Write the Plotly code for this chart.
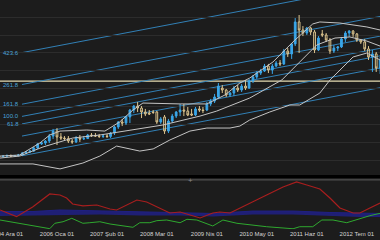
import plotly.graph_objects as go
import pandas as pd

# ---------------- data ----------------
months = pd.date_range('2004-10-01', periods=100, freq='MS')

open_ = [22.2, 22.0, 22.2, 22.5, 22.2, 22.5, 22.8, 23.9, 24.5, 25.0,
         26.7, 29.0, 29.5, 30.6, 33.4, 36.2, 32.9, 32.3, 32.0, 30.6,
         30.1, 32.3, 31.8, 32.0, 34.0, 33.7, 33.4, 33.2, 33.4, 33.2,
         35.1, 38.5, 41.3, 40.7, 44.1, 48.0, 50.2, 49.1, 46.9, 46.3,
         46.9, 46.9, 41.3, 44.1, 36.2, 41.8, 44.6, 46.9, 48.0, 47.4,
         45.8, 45.2, 48.6, 48.0, 48.0, 51.4, 53.0, 55.3, 60.3, 59.2,
         56.4, 57.5, 60.3, 59.2, 61.4, 60.3, 64.2, 66.5, 68.7, 69.8,
         72.6, 70.4, 72.6, 74.3, 73.8, 81.0, 79.4, 85.0, 97.3, 92.8,
         91.1, 93.9, 91.7, 81.6, 90.6, 90.0, 87.2, 81.0, 82.7, 83.3,
         87.8, 91.1, 92.2, 90.6, 87.2, 86.1, 82.2, 77.7, 79.4, 71.5]
high = [22.8, 22.8, 23.1, 23.1, 22.8, 23.4, 24.5, 25.0, 25.6, 27.3,
        29.5, 30.1, 31.2, 34.6, 37.4, 37.9, 35.1, 33.4, 33.4, 31.8,
        33.4, 34.0, 33.4, 34.6, 35.1, 35.1, 34.6, 34.6, 34.6, 35.7,
        39.0, 41.8, 43.0, 44.6, 48.6, 50.8, 52.5, 50.2, 48.6, 48.0,
        48.0, 47.4, 44.1, 45.2, 43.0, 45.8, 47.4, 51.4, 51.4, 49.7,
        48.6, 49.7, 50.2, 49.7, 52.5, 54.2, 57.0, 63.1, 62.0, 59.8,
        58.1, 61.4, 62.0, 62.6, 64.8, 65.4, 67.6, 69.8, 71.0, 73.8,
        73.8, 73.8, 75.4, 76.0, 82.2, 82.7, 85.5, 99.5, 101.2, 95.0,
        94.5, 94.5, 92.8, 89.4, 92.8, 91.1, 88.3, 84.4, 83.8, 88.9,
        92.2, 92.8, 92.8, 91.1, 87.8, 87.8, 83.8, 81.6, 80.5, 77.7]
low = [21.7, 21.4, 21.7, 21.7, 21.7, 22.0, 22.5, 23.4, 23.9, 24.5,
       26.2, 28.4, 28.4, 29.5, 31.8, 28.4, 31.2, 31.2, 29.5, 29.0,
       29.5, 30.1, 31.2, 31.8, 32.9, 32.9, 32.3, 32.3, 32.3, 32.3,
       34.0, 37.4, 39.0, 39.6, 40.7, 46.3, 46.9, 43.5, 44.6, 45.2,
       45.8, 40.2, 40.2, 34.6, 35.1, 40.7, 43.5, 44.6, 44.6, 44.6,
       44.6, 44.6, 46.9, 46.3, 47.4, 50.2, 51.9, 54.2, 57.5, 55.3,
       55.3, 55.8, 58.1, 58.1, 59.2, 59.8, 63.1, 65.4, 67.6, 69.3,
       68.7, 68.2, 72.1, 72.6, 73.2, 77.7, 76.6, 83.8, 79.9, 89.4,
       90.0, 90.0, 79.9, 81.0, 88.9, 86.1, 79.4, 79.9, 81.0, 82.7,
       86.1, 88.9, 88.9, 86.1, 85.0, 81.0, 76.0, 69.3, 69.3, 68.2]
close = [22.0, 22.2, 22.5, 22.2, 22.5, 22.8, 23.9, 24.5, 25.0, 26.7,
         29.0, 29.5, 30.6, 33.4, 36.2, 32.9, 32.3, 32.0, 30.6, 30.1,
         32.3, 31.8, 32.0, 34.0, 33.7, 33.4, 33.2, 33.4, 33.2, 35.1,
         38.5, 41.3, 40.7, 44.1, 48.0, 50.2, 49.1, 46.9, 45.8, 45.8,
         46.6, 41.3, 43.0, 36.2, 41.8, 44.6, 46.9, 48.0, 47.4, 45.2,
         45.2, 48.6, 48.0, 47.7, 51.4, 53.0, 55.3, 61.4, 59.2, 56.4,
         57.5, 60.3, 59.2, 61.4, 60.3, 64.2, 66.5, 68.7, 69.8, 72.6,
         70.4, 72.6, 74.3, 73.8, 81.0, 79.4, 85.0, 97.3, 92.8, 91.1,
         93.9, 91.7, 81.6, 88.3, 90.0, 87.2, 81.0, 82.7, 83.3, 87.8,
         91.1, 92.2, 90.6, 87.2, 86.1, 82.2, 77.7, 79.4, 71.5, 76.0]

# Bollinger bands (sampled points)
bb_up_dates = ['2004-10-07', '2005-03-12', '2005-08-18', '2005-11-05', '2006-01-25',
               '2006-08-25', '2007-01-15', '2007-05-12', '2007-08-25', '2007-11-12',
               '2008-09-01', '2009-04-01', '2009-08-22', '2009-12-18', '2010-03-06',
               '2010-09-06', '2011-02-27', '2011-07-18', '2011-09-12', '2012-02-18',
               '2012-09-18', '2013-01-01']
bb_up = [22.2, 22.8, 29.5, 34.0, 36.2, 36.8, 36.2, 41.3, 48.0, 51.9,
         51.4, 51.4, 56.4, 63.1, 65.9, 74.9, 87.2, 96.2, 97.3, 96.7, 94.5, 92.8]
bb_mid_dates = ['2004-10-07', '2005-03-12', '2005-09-12', '2006-05-05', '2006-12-06',
                '2007-08-01', '2008-04-18', '2009-02-06', '2009-06-18', '2010-03-06',
                '2010-11-15', '2011-04-06', '2011-08-18', '2012-01-10', '2012-05-06',
                '2012-09-18', '2013-01-01']
bb_mid = [21.1, 22.2, 27.3, 32.3, 34.0, 36.8, 39.6, 44.6, 47.4, 54.7,
          64.8, 74.9, 84.4, 88.3, 88.9, 86.6, 83.8]
bb_low_dates = ['2004-10-07', '2005-06-25', '2006-01-25', '2006-07-25', '2006-12-06',
                '2007-04-18', '2007-10-18', '2008-02-01', '2008-06-12', '2008-11-18',
                '2009-04-01', '2009-10-01', '2009-12-18', '2010-03-06', '2010-08-12',
                '2011-01-18', '2011-04-06', '2011-09-12', '2011-12-01', '2012-06-01',
                '2012-09-18', '2013-01-01']
bb_low = [17.8, 17.8, 15.0, 18.3, 22.2, 27.8, 25.0, 26.2, 31.2, 36.2,
          37.9, 37.9, 39.0, 42.4, 46.9, 50.8, 50.8, 57.5, 64.8, 77.7, 79.9, 76.0]

# Fibonacci channel
fib_levels = [423.6, 261.8, 161.8, 100.0, 61.8, 0.0, -100.0]
fib_labels = ['423.6', '261.8', '161.8', '100.0', '61.8', '', '']
fib_start_date, fib_end_date = '2005-03-30', '2012-12-31'
fib_base_start, fib_base_end = 33.4, 71.5
fib_unit = 0.1103
h_level = 64.2

# Lower indicator
red_dates = ['2004-10-07', '2005-02-15', '2005-06-25', '2005-11-05', '2006-01-25',
             '2006-03-18', '2006-05-05', '2006-07-25', '2006-11-12', '2007-02-25',
             '2007-04-18', '2007-09-25', '2007-12-12', '2008-03-25', '2008-06-12',
             '2008-09-01', '2008-12-12', '2009-02-06', '2009-05-18', '2009-07-12',
             '2009-10-01', '2009-12-18', '2010-04-01', '2010-07-18', '2010-11-25',
             '2011-03-12', '2011-06-01', '2011-09-12', '2011-12-01', '2012-02-18',
             '2012-06-01', '2012-07-25', '2012-10-12', '2013-01-01']
red_vals = [23.3, 15.1, 27.3, 42.9, 41.6, 38.0, 30.6, 28.2, 29.4, 24.5,
            23.3, 35.5, 33.1, 25.7, 19.6, 20.8, 15.9, 13.5, 19.6, 20.8,
            19.6, 25.7, 33.1, 41.6, 51.4, 57.6, 53.9, 49.0, 38.0, 25.7,
            19.6, 19.6, 25.7, 31.8]
green_dates = ['2004-10-07', '2005-01-18', '2005-06-25', '2005-11-05', '2005-12-15',
               '2006-02-18', '2006-04-28', '2006-07-25', '2006-09-18', '2006-12-06',
               '2007-02-25', '2007-08-25', '2007-10-18', '2008-01-06', '2008-03-01',
               '2008-05-18', '2008-09-01', '2008-10-25', '2009-01-12', '2009-05-18',
               '2009-08-06', '2009-11-25', '2010-07-18', '2011-02-12', '2011-04-06',
               '2011-07-18', '2011-09-28', '2011-12-25', '2012-04-12', '2012-07-25',
               '2012-10-12', '2013-01-01']
green_vals = [11.0, 8.2, 3.7, 0.4, 7.0, 8.9, 13.1, 7.0, 7.7, 8.9,
              6.1, 2.1, 7.7, 7.7, 10.2, 11.0, 7.7, 11.9, 11.0, 3.7,
              11.0, 7.0, 2.8, 0.3, 2.8, 2.8, 11.0, 11.0, 7.7, 13.1,
              16.3, 19.2]
blue_dates = ['2004-10-07', '2005-06-25', '2006-01-25', '2006-12-06', '2007-10-18',
              '2008-09-01', '2009-05-18', '2010-04-01', '2011-02-12', '2011-12-01',
              '2012-07-25', '2013-01-01']
blue_hi = [21.4, 21.4, 23.3, 22.0, 21.4, 20.2, 19.0, 22.0, 22.0, 20.2, 19.0, 19.0]
blue_lo = [15.9, 16.5, 17.8, 17.8, 16.5, 16.5, 15.3, 17.8, 17.8, 15.9, 14.7, 14.7]

tick_dates = ['2004-12-01', '2006-01-01', '2007-02-01', '2008-03-01',
              '2009-04-01', '2010-05-01', '2011-06-01', '2012-07-01']
tick_text = ['2004 Ara 01', '2006 Oca 01', '2007 Şub 01', '2008 Mar 01',
             '2009 Nis 01', '2010 May 01', '2011 Haz 01', '2012 Tem 01']

# ---------------- figure ----------------
BG = '#1c1c1c'
fig = go.Figure()

band_col = '#c4c4c4'
for d, v in [(bb_up_dates, bb_up), (bb_mid_dates, bb_mid), (bb_low_dates, bb_low)]:
    fig.add_trace(go.Scatter(x=d, y=v, mode='lines', line=dict(color=band_col, width=1),
                             hoverinfo='skip', xaxis='x', yaxis='y'))

fig.add_trace(go.Candlestick(
    x=months, open=open_, high=high, low=low, close=close,
    increasing=dict(line=dict(color='#3aa6e8', width=1), fillcolor='#3aa6e8'),
    decreasing=dict(line=dict(color='#dcc48e', width=1), fillcolor='rgba(0,0,0,0)'),
    whiskerwidth=0, hoverinfo='skip', xaxis='x', yaxis='y'))

# lower panel
fig.add_trace(go.Scatter(x=blue_dates, y=blue_lo, mode='lines', line=dict(color='rgba(0,0,0,0)', width=0),
                         hoverinfo='skip', xaxis='x2', yaxis='y2'))
fig.add_trace(go.Scatter(x=blue_dates, y=blue_hi, mode='lines', line=dict(color='#202084', width=1),
                         fill='tonexty', fillcolor='rgba(32,32,128,0.9)', hoverinfo='skip',
                         xaxis='x2', yaxis='y2'))
fig.add_trace(go.Scatter(x=green_dates, y=green_vals, mode='lines', line=dict(color='#2fa82f', width=1),
                         hoverinfo='skip', xaxis='x2', yaxis='y2'))
fig.add_trace(go.Scatter(x=red_dates, y=red_vals, mode='lines', line=dict(color='#a81e1e', width=1.2),
                         hoverinfo='skip', xaxis='x2', yaxis='y2'))

shapes = []
annotations = []
for lvl, lab in zip(fib_levels, fib_labels):
    y0 = fib_base_start + lvl * fib_unit
    y1 = fib_base_end + lvl * fib_unit
    shapes.append(dict(type='line', xref='x', yref='y', x0=fib_start_date, x1=fib_end_date,
                       y0=y0, y1=y1, line=dict(color='#3280b6', width=1), layer='below'))
    if lab:
        annotations.append(dict(x=fib_start_date, y=y0, xref='x', yref='y', text=lab,
                                showarrow=False, xanchor='right', yanchor='middle', xshift=-1,
                                font=dict(size=6, color='#4aa2da', family='Liberation Sans')))
shapes.append(dict(type='line', xref='paper', yref='y', x0=0, x1=1, y0=h_level, y1=h_level,
                   line=dict(color='#e6dcb2', width=1.2), layer='below'))
# separator
shapes.append(dict(type='rect', xref='paper', yref='paper', x0=0, x1=1, y0=0.2227, y1=0.2358,
                   fillcolor='#000000', line=dict(width=0)))
shapes.append(dict(type='line', xref='paper', yref='paper', x0=0, x1=1, y0=0.2145, y1=0.2145,
                   line=dict(color='#5e5e5e', width=1)))
annotations.append(dict(x=0.5, y=0.2145, xref='paper', yref='paper', text='+', showarrow=False,
                        font=dict(size=8, color='#8a8a8a'), xanchor='center', yanchor='middle'))

fig.update_layout(
    width=380, height=240, margin=dict(l=0, r=0, t=0, b=11, autoexpand=False),
    paper_bgcolor=BG, plot_bgcolor=BG, showlegend=False,
    shapes=shapes, annotations=annotations,
    xaxis=dict(domain=[0, 1], anchor='y', type='date', range=['2004-10-07', '2012-12-31'],
               showgrid=False, showticklabels=False, zeroline=False, ticks='',
               automargin=False, rangeslider=dict(visible=False)),
    yaxis=dict(domain=[0.2489, 1], range=[13.28, 109.6], dtick=10, tick0=0,
               showgrid=True, gridcolor='#2c2c2c', gridwidth=1, automargin=False,
               showticklabels=False, zeroline=False, ticks=''),
    xaxis2=dict(domain=[0, 1], anchor='y2', type='date', matches='x',
                tickmode='array', tickvals=tick_dates, ticktext=tick_text,
                ticklabeloverflow='allow', automargin=False,
                tickfont=dict(size=6, color='#d4d4d4', family='Liberation Sans'),
                showgrid=False, zeroline=False, ticks='', rangeslider=dict(visible=False)),
    yaxis2=dict(domain=[0, 0.214], range=[0, 60], showgrid=False, automargin=False,
                showticklabels=False, zeroline=False, ticks=''),
)

fig.write_html('out.html')
